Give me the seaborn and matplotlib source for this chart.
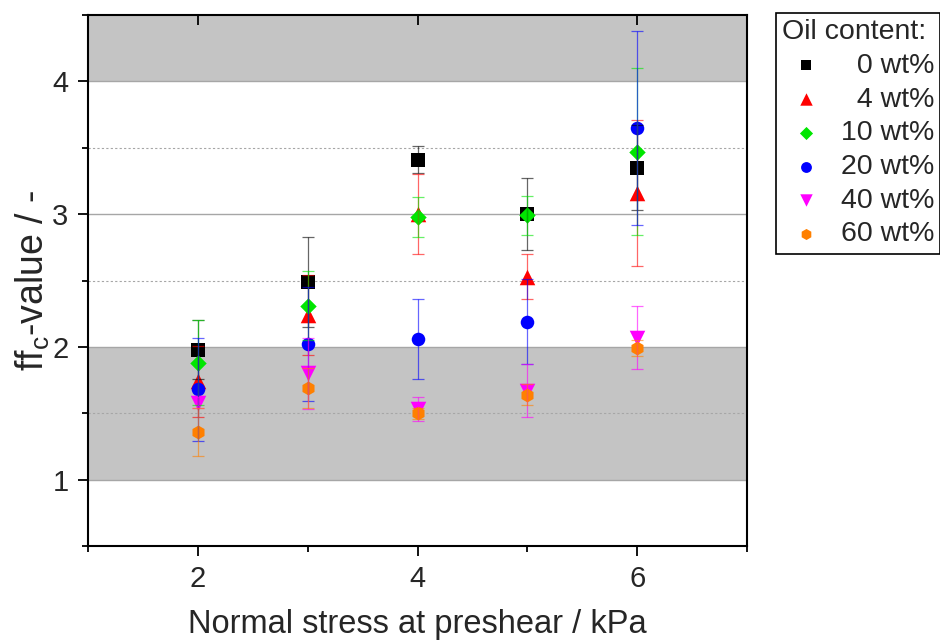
import numpy as np
import pandas as pd
import matplotlib
matplotlib.use("Agg")
import matplotlib.pyplot as plt
from matplotlib.ticker import MultipleLocator
import seaborn as sns

# Normal stress at preshear (kPa)
stress = [2, 3, 4, 5, 6]

# ffc-values and their standard deviations per oil content
ff_0 = [1.98, 2.49, 3.41, 3.00, 3.35]
err_0 = [0.22, 0.34, 0.10, 0.27, 0.32]
ff_4 = [1.74, 2.24, 3.00, 2.53, 3.16]
err_4 = [0.27, 0.30, 0.30, 0.17, 0.55]
ff_10 = [1.88, 2.31, 2.98, 2.99, 3.47]
err_10 = [0.32, 0.26, 0.15, 0.15, 0.63]
ff_20 = [1.68, 2.02, 2.06, 2.19, 3.65]
err_20 = [0.39, 0.43, 0.30, 0.32, 0.73]
ff_40 = [1.58, 1.80, 1.53, 1.67, 2.07]
err_40 = [0.04, 0.27, 0.09, 0.20, 0.24]
ff_60 = [1.36, 1.69, 1.50, 1.64, 1.99]
err_60 = [0.18, 0.15, 0.04, 0.08, 0.06]

labels = ["0 wt%", "4 wt%", "10 wt%", "20 wt%", "40 wt%", "60 wt%"]
values = [ff_0, ff_4, ff_10, ff_20, ff_40, ff_60]
errors = [err_0, err_4, err_10, err_20, err_40, err_60]
colors = ["#000000", "#FF0000", "#00E600", "#0000FF", "#FF00FF", "#FF8000"]
markers = ["s", "^", "D", "o", "v", "h"]
sizes = [90, 125, 70, 95, 125, 100]

sns.set_theme(style="white")
plt.rcParams["font.family"] = ["Liberation Sans", "DejaVu Sans"]
plt.rcParams["mathtext.fontset"] = "custom"
plt.rcParams["mathtext.rm"] = "Liberation Sans"

fig = plt.figure(figsize=(9.4, 6.4), dpi=100)
ax = fig.add_axes([88 / 940, 1 - 546 / 640, (747 - 88) / 940, (546 - 15) / 640])

# acceptance bands
ax.axhspan(1, 2, color="#C4C4C4", zorder=0, lw=0)
ax.axhspan(4, 4.5, color="#C4C4C4", zorder=0, lw=0)
for y in [1, 2, 3, 4]:
    ax.axhline(y, color="#A6A6A6", lw=1.0, zorder=0.5)
for y in [1.5, 2.5, 3.5]:
    ax.axhline(y, color="#A6A6A6", lw=0.8, ls=(0, (2, 2)), zorder=0.5)

for lab, v, c, m, s in zip(labels, values, colors, markers, sizes):
    df = pd.DataFrame({"stress": stress, "ff": v})
    sns.scatterplot(data=df, x="stress", y="ff", color=c, marker=m, s=s,
                    edgecolor=c, linewidth=0, label=lab, ax=ax, zorder=3)

for v, e, c in zip(values, errors, colors):
    ax.errorbar(stress, v, yerr=e, fmt="none", ecolor=c, alpha=0.6,
                elinewidth=0.9, capsize=4, capthick=0.9, zorder=4)

ax.set_xlim(1, 7)
ax.set_ylim(0.5, 4.5)
ax.xaxis.set_major_locator(MultipleLocator(2))
ax.xaxis.set_minor_locator(MultipleLocator(1))
ax.yaxis.set_major_locator(MultipleLocator(1))
ax.yaxis.set_minor_locator(MultipleLocator(0.5))
ax.set_xticks([2, 4, 6])
ax.tick_params(axis="both", which="major", direction="out", length=7, width=1.3,
               labelsize=21, color="black", pad=7)
ax.tick_params(axis="both", which="minor", direction="out", length=4, width=1.3,
               color="black")
ax.tick_params(bottom=True, left=True, which="both")
for sp in ax.spines.values():
    sp.set_color("black")
    sp.set_linewidth(1.5)

top = ax.secondary_xaxis("top")
top.set_xticks([2, 4, 6])
top.tick_params(direction="in", length=7, width=1.3, labeltop=False, color="black")
top.set_xticklabels([])

ax.set_xlabel("Normal stress at preshear / kPa", fontsize=23.5, labelpad=11)
ax.set_ylabel(r"ff$_\mathrm{c}$-value / -", fontsize=27, labelpad=0)

handles, labs = ax.get_legend_handles_labels()
ax.get_legend().remove()
pad_labels = ["\u2007" + l if len(l.split()[0]) == 1 else l for l in labs]
leg = fig.legend(handles, pad_labels, title="Oil content:", loc="upper left",
                 bbox_to_anchor=(776 / 940, 1 - 13 / 640), fontsize=20.5,
                 title_fontsize=20.5, frameon=True, fancybox=False,
                 edgecolor="black", framealpha=1, borderpad=0.22,
                 labelspacing=0.27, handletextpad=0.35, handlelength=1.7,
                 borderaxespad=0, markerscale=0.8)
leg.get_frame().set_linewidth(1.2)
leg._legend_box.align = "left"

fig.savefig("out.png", dpi=100)
